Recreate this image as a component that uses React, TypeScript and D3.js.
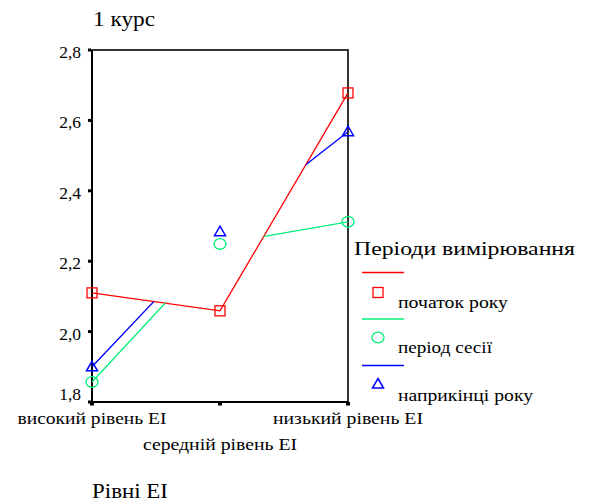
import React from "react";
import * as d3 from "d3";

const categories = ["високий рівень ЕІ", "середній рівень ЕІ", "низький рівень ЕІ"];
const seriesNames = ["початок року", "період сесії", "наприкінці року"];
const startYear = [2.11, 2.059, 2.678];
const session = [1.857, 2.249, 2.312];
const endYear = [1.9, 2.284, 2.568];
const yTicks = [1.8, 2.0, 2.2, 2.4, 2.6, 2.8];

const colors = ["#ff0000", "#00ee77", "#0000ff"];
const FONT = '"Liberation Serif", "Times New Roman", serif';

export default function App() {
  const W = 593, H = 504;
  const left = 92, right = 348, top = 50, bottom = 402;
  const x = d3.scalePoint<string>().domain(categories).range([left, right]);
  const y = d3.scaleLinear().domain([1.8, 2.8]).range([bottom, top]);
  const series = [startYear, session, endYear];
  const line = d3.line<number>().x((_, i) => x(categories[i])!).y((d) => y(d));

  const redPts = startYear.map((v, i) => [x(categories[i])!, y(v)]);
  const clipPts = [...redPts, [right + 5, bottom + 20], [left - 5, bottom + 20]];
  const clipD = "M" + clipPts.map((p) => p.join(",")).join("L") + "Z";

  const marker = (k: number, cx: number, cy: number, key: string) => {
    const c = colors[k];
    if (k === 0)
      return <rect key={key} x={cx - 5} y={cy - 5} width={10} height={10} fill="none" stroke={c} strokeWidth={1.3} />;
    if (k === 1)
      return <ellipse key={key} cx={cx} cy={cy} rx={6} ry={5.3} fill="none" stroke={c} strokeWidth={1.3} />;
    return (
      <path key={key} d={`M${cx},${cy - 5.5}L${cx + 5.5},${cy + 4}L${cx - 5.5},${cy + 4}Z`} fill="none" stroke={c} strokeWidth={1.5} />
    );
  };

  const legY = [272.5, 319, 365.5];
  const legMarkY = [292.5, 337.5, 384];
  const legTextY = [308, 353, 401];
  const legTextLen = [110, 94, 135];
  const catTextLen = [149, 154, 150];
  const ts = { fontFamily: FONT };

  return (
    <svg width={W} height={H} style={{ position: "absolute", left: 0, top: 0, background: "#fff", fontFamily: FONT }}>
      <defs>
        <clipPath id="belowRed">
          <path d={clipD} />
        </clipPath>
      </defs>
      <rect x={0} y={0} width={W} height={H} fill="#fff" />
      <text x={93} y={26} fontSize={20} style={ts} textLength={62} lengthAdjust="spacingAndGlyphs">1 курс</text>

      <rect x={left} y={top} width={right - left} height={bottom - top} fill="none" stroke="#000" strokeWidth={1.6} />
      <line x1={left} x2={left} y1={top} y2={bottom} stroke="#000" strokeWidth={2} />
      <line x1={left} x2={right} y1={bottom} y2={bottom} stroke="#000" strokeWidth={2} />

      {yTicks.map((t, i) => (
        <g key={t}>
          <rect x={left - 4} y={y(t) - 1.5} width={3} height={3} fill="#000" />
          <text x={81} y={i === 0 ? y(t) - 2 : y(t) + 8} fontSize={17.5} textAnchor="end" style={ts}>
            {d3.format(".1f")(t).replace(".", ",")}
          </text>
        </g>
      ))}
      {categories.map((c, i) => (
        <g key={c}>
          <rect x={x(c)! - 2} y={bottom} width={4} height={3.5} fill="#000" />
          <text
            x={x(c)! - catTextLen[i] / 2}
            y={i === 1 ? 450 : 424}
            fontSize={16.5}
            textLength={catTextLen[i]}
            lengthAdjust="spacingAndGlyphs"
            style={ts}
          >
            {c}
          </text>
        </g>
      ))}
      <text x={92} y={498} fontSize={21} style={ts} textLength={76} lengthAdjust="spacingAndGlyphs">Рівні ЕІ</text>

      {series.map((s, k) => (
        <path
          key={"l" + k}
          d={line(s)!}
          fill="none"
          stroke={colors[k]}
          strokeWidth={1.3}
          clipPath={k === 0 ? undefined : "url(#belowRed)"}
        />
      ))}
      {series.map((s, k) => s.map((v, i) => marker(k, x(categories[i])!, y(v), `m${k}-${i}`)))}

      <text x={354} y={255} fontSize={19} style={ts} textLength={221} lengthAdjust="spacingAndGlyphs">Періоди вимірювання</text>
      {seriesNames.map((n, k) => (
        <g key={n}>
          <line x1={362} x2={404} y1={legY[k]} y2={legY[k]} stroke={colors[k]} strokeWidth={1.3} />
          {marker(k, 378, legMarkY[k], "lm" + k)}
          <text x={398} y={legTextY[k]} fontSize={16.5} style={ts} textLength={legTextLen[k]} lengthAdjust="spacingAndGlyphs">
            {n}
          </text>
        </g>
      ))}
    </svg>
  );
}
